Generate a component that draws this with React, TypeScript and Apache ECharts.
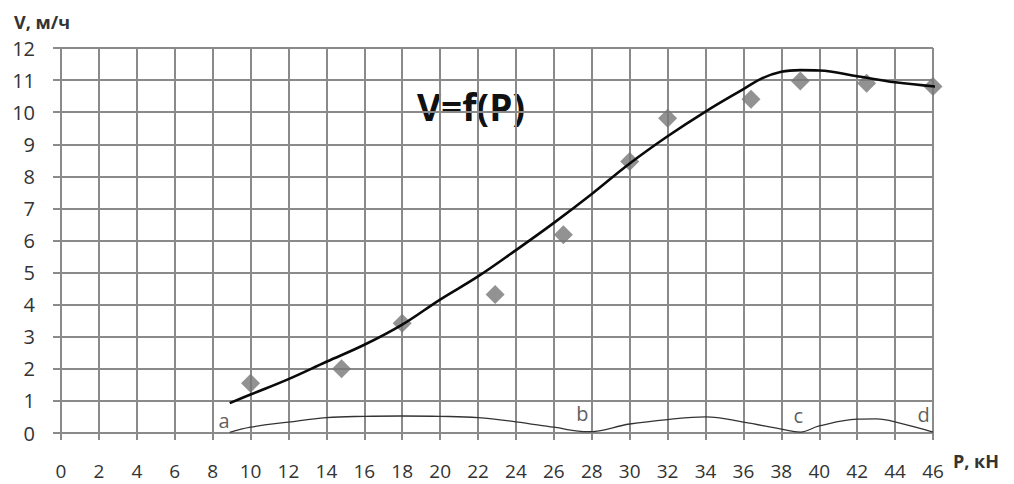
import React, { useEffect, useRef } from "react";
import * as echarts from "echarts";

const xTicks = { min: 0, max: 46, interval: 2 };
const yTicks = { min: 0, max: 12, interval: 1 };

const measuredP = [10, 14.8, 18, 22.9, 26.5, 30, 32, 36.4, 39, 42.5, 46];
const measuredV = [1.55, 2.0, 3.42, 4.32, 6.18, 8.46, 9.81, 10.4, 10.97, 10.9, 10.8];

const trendP = [8.9, 10, 12, 14, 16, 18, 20, 22, 24, 26, 28, 30, 32, 34, 36, 37, 38, 39, 40, 42, 44, 46.5];
const trendV = [0.93, 1.2, 1.68, 2.22, 2.75, 3.38, 4.16, 4.88, 5.7, 6.55, 7.45, 8.4, 9.25, 10.02, 10.72, 11.06, 11.26, 11.31, 11.3, 11.12, 10.93, 10.78];

const lowerP = [8.9, 10, 12, 14, 16, 18, 20, 22, 24, 26, 27.8, 30, 32, 34, 36, 38, 39, 40, 42, 43, 44.3, 46];
const lowerV = [0.02, 0.18, 0.34, 0.48, 0.52, 0.53, 0.52, 0.48, 0.35, 0.18, 0.04, 0.28, 0.42, 0.5, 0.34, 0.12, 0.03, 0.22, 0.43, 0.44, 0.3, 0.03];

const pointNames = ["a", "b", "c", "d"];
const pointP = [8.6, 27.5, 38.9, 45.5];
const pointV = [0.38, 0.62, 0.53, 0.59];

const chartTitle = "V=f(P)";
const yName = "V, м/ч";
const xName = "P, кН";

const FONT = "'Open Sans', 'Noto Sans', sans-serif";
const GRID_COLOR = "#8a8a8a";
const TEXT_COLOR = "#333333";

export default function App() {
  const ref = useRef<HTMLDivElement>(null);

  useEffect(() => {
    if (!ref.current) return;
    const chart = echarts.init(ref.current, null, { renderer: "svg" });
    chart.setOption({
      animation: false,
      backgroundColor: "#ffffff",
      grid: { left: 61, right: 81, top: 48, bottom: 51, containLabel: false },
      xAxis: {
        type: "value",
        min: xTicks.min,
        max: xTicks.max,
        interval: xTicks.interval,
        axisLine: { show: true, lineStyle: { color: GRID_COLOR, width: 2 } },
        axisTick: { show: true, length: 7, lineStyle: { color: GRID_COLOR, width: 2 } },
        splitLine: { show: true, lineStyle: { color: GRID_COLOR, width: 2 } },
        axisLabel: { fontFamily: FONT, fontSize: 19, lineHeight: 19, color: TEXT_COLOR, margin: 28 },
      },
      yAxis: {
        type: "value",
        min: yTicks.min,
        max: yTicks.max,
        interval: yTicks.interval,
        axisLine: { show: true, lineStyle: { color: GRID_COLOR, width: 2 } },
        axisTick: { show: true, length: 8, lineStyle: { color: GRID_COLOR, width: 2 } },
        splitLine: { show: true, lineStyle: { color: GRID_COLOR, width: 2 } },
        axisLabel: { fontFamily: FONT, fontSize: 20, color: TEXT_COLOR, margin: 26 },
      },
      graphic: [
        {
          type: "text",
          left: 14,
          top: 13,
          style: { text: yName, font: `bold 18px ${FONT}`, fill: TEXT_COLOR },
        },
        {
          type: "text",
          left: 953,
          top: 452,
          style: { text: xName, font: `bold 18px ${FONT}`, fill: TEXT_COLOR },
        },
        {
          type: "text",
          x: 471,
          y: 106,
          style: {
            text: chartTitle,
            font: `bold 37px ${FONT}`,
            fill: "#111111",
            align: "center",
            verticalAlign: "middle",
          },
        },
      ],
      series: [
        {
          type: "line",
          data: lowerP.map((p, i) => [p, lowerV[i]]),
          smooth: 0.4,
          showSymbol: false,
          lineStyle: { color: "#333333", width: 1.3 },
          z: 3,
        },
        {
          type: "scatter",
          data: measuredP.map((p, i) => [p, measuredV[i]]),
          symbol: "diamond",
          symbolSize: [19, 19],
          itemStyle: { color: "#777777" },
          z: 4,
        },
        {
          type: "line",
          data: trendP.map((p, i) => [p, trendV[i]]),
          smooth: 0.4,
          showSymbol: false,
          lineStyle: { color: "#0a0a0a", width: 2.6 },
          z: 5,
        },
        {
          type: "scatter",
          data: pointNames.map((n, i) => [pointP[i], pointV[i], n]),
          symbolSize: 0,
          label: {
            show: true,
            position: "inside",
            formatter: (p: any) => p.value[2],
            fontFamily: FONT,
            fontSize: 20,
            color: TEXT_COLOR,
          },
          z: 6,
        },
      ],
    });
    return () => chart.dispose();
  }, []);

  return <div ref={ref} style={{ width: 1014, height: 484, position: "absolute", left: 0, top: 0 }} />;
}
